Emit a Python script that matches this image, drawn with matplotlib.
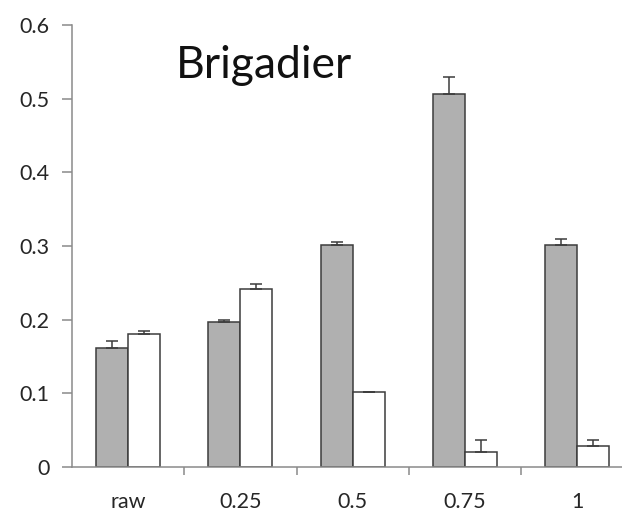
import numpy as np
import matplotlib
matplotlib.use("Agg")
import matplotlib.pyplot as plt

# Brigadier: mean values with upper error bars per treatment level
levels = ["raw", "0.25", "0.5", "0.75", "1"]
grey_vals = [0.162, 0.197, 0.302, 0.507, 0.302]
grey_err = [0.009, 0.002, 0.003, 0.023, 0.007]
white_vals = [0.180, 0.241, 0.102, 0.021, 0.028]
white_err = [0.005, 0.007, 0.0, 0.015, 0.009]

plt.rcParams['font.family'] = ['Lato', 'DejaVu Sans']

fig = plt.figure(figsize=(6.22, 5.13), dpi=100)
ax = fig.add_axes([72 / 622, 46 / 513, 561.5 / 622, 442 / 513])

x = np.arange(len(levels))
w = 0.285
edge = "#3c3c3c"

ax.bar(x - w / 2, grey_vals, w, color="#b0b0b0", edgecolor=edge, linewidth=1.1,
       yerr=[np.zeros(len(x)), grey_err], capsize=4.5,
       error_kw=dict(ecolor=edge, elinewidth=1.1, capthick=1.1))
ax.bar(x + w / 2, white_vals, w, color="white", edgecolor=edge, linewidth=1.1,
       yerr=[np.zeros(len(x)), white_err], capsize=4.5,
       error_kw=dict(ecolor=edge, elinewidth=1.1, capthick=1.1))

ax.set_xlim(-0.5, len(levels) - 0.5)
ax.set_ylim(0, 0.6)
ax.set_yticks(np.arange(0, 0.61, 0.1))
ax.set_yticklabels(["0", "0.1", "0.2", "0.3", "0.4", "0.5", "0.6"])
ax.set_xticks(x)
ax.set_xticklabels(levels)
ax.set_xticks(np.arange(0.5, len(levels) - 0.5, 1), minor=True)

for s in ["top", "right"]:
    ax.spines[s].set_visible(False)
for s in ["left", "bottom"]:
    ax.spines[s].set_color("#8a8a8a")
    ax.spines[s].set_linewidth(1.1)

ax.tick_params(axis="y", length=7, width=1.1, color="#8a8a8a", labelsize=15.5,
               labelcolor="#262626", pad=9)
ax.tick_params(axis="x", which="major", length=0, labelsize=15.5,
               labelcolor="#262626", pad=18)
ax.tick_params(axis="x", which="minor", length=6, width=1.1, color="#8a8a8a")

fig.text(176 / 622, 1 - 66 / 513, "Brigadier", fontsize=32, color="#111111",
         ha="left", va="center")

fig.savefig("out.png", dpi=100)
